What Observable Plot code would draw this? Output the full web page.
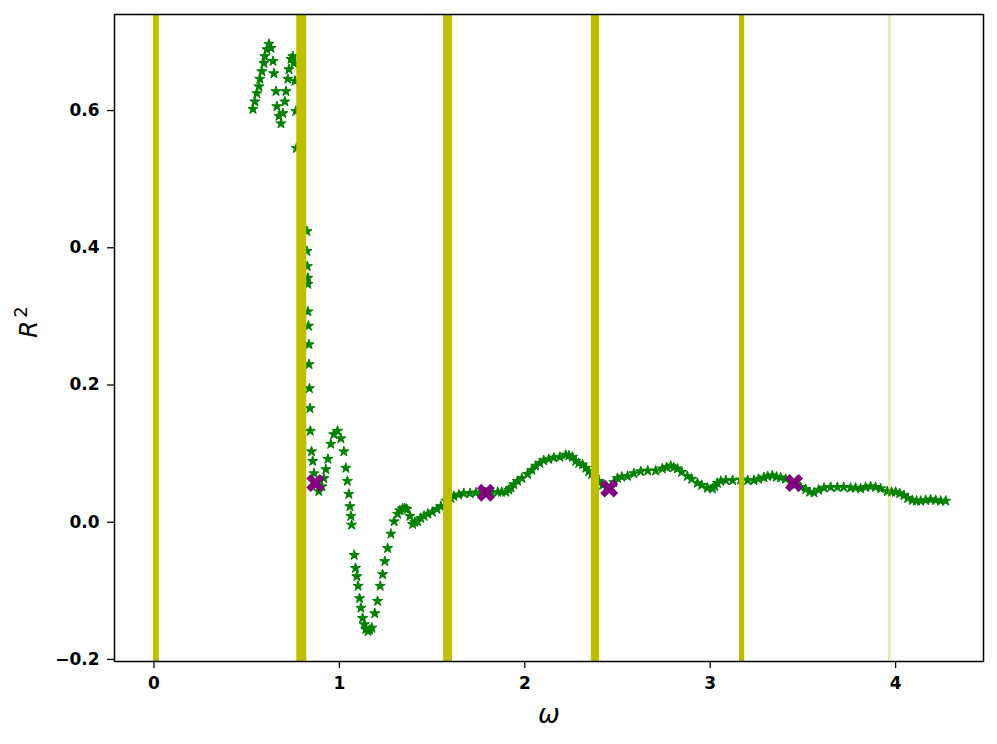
<!DOCTYPE html>
<html><head><meta charset="utf-8">
<script src="https://cdn.jsdelivr.net/npm/d3@7"></script>
<script src="https://cdn.jsdelivr.net/npm/@observablehq/plot@0.6"></script>
<style>
body{margin:0;background:#fff;}
#chart svg{display:block;}
</style>
</head><body><div id="chart"></div>
<script>
// ω values of the green star series
const omega = [
0.534,0.544,0.555,0.566,0.571,0.582,0.593,0.598,0.609,0.620,0.631,0.642,0.647,0.658,0.663,0.674,0.685,0.695,0.706,0.712,0.722,0.728,0.739,0.749,0.755,0.760,0.765,0.768,
0.825,0.825,0.827,0.830,0.830,0.830,0.833,0.836,0.836,0.838,0.841,0.843,0.850,0.856,0.863,0.873,0.889,0.906,0.916,0.927,0.938,0.954,0.970,0.990,1.008,1.024,1.035,1.043,1.051,1.057,1.062,1.066,
1.080,1.087,1.094,1.101,1.109,1.116,1.125,1.134,1.143,1.154,1.164,1.175,1.191,1.206,1.220,1.233,1.245,1.260,1.278,1.295,1.314,1.326,1.341,1.353,1.364,1.380,1.395,1.407,1.422,1.439,1.457,1.477,1.502,1.526,1.547,1.574,1.601,
1.617,1.644,1.671,1.704,1.736,1.763,1.790,1.822,1.854,1.876,1.898,1.914,1.925,1.941,1.961,1.984,2.015,2.038,2.059,2.081,2.102,2.129,2.156,2.189,2.221,2.237,2.257,2.275,2.291,2.311,2.329,2.345,2.361,2.377,2.399,2.420,2.442,2.464,2.480,
2.500,2.523,2.554,2.588,2.625,2.663,2.706,2.742,2.765,2.787,2.803,2.823,2.846,2.877,2.900,2.931,2.954,2.985,3.012,3.024,3.039,3.057,3.084,3.121,3.164,3.202,3.236,3.261,3.290,3.310,3.335,3.358,3.380,3.407,3.434,3.461,3.488,3.515,3.536,3.560,
3.585,3.614,3.650,3.686,3.720,3.757,3.784,3.811,3.838,3.865,3.892,3.919,3.955,3.978,4.000,4.022,4.045,4.065,4.090,4.113,4.135,4.162,4.189,4.216,4.243,4.270
];
// R² values of the green star series
const r2 = [
0.602,0.613,0.625,0.635,0.646,0.657,0.669,0.679,0.689,0.697,0.691,0.672,0.654,0.628,0.606,0.592,0.581,0.596,0.613,0.628,0.646,0.660,0.675,0.679,0.669,0.643,0.599,0.545,
0.424,0.395,0.373,0.356,0.347,0.307,0.286,0.259,0.230,0.195,0.166,0.133,0.103,0.089,0.071,0.054,0.045,0.052,0.064,0.077,0.092,0.114,0.128,0.133,0.122,0.103,0.079,0.060,0.041,0.023,0.009,-0.004,
-0.048,-0.067,-0.079,-0.093,-0.111,-0.125,-0.140,-0.149,-0.156,-0.159,-0.157,-0.154,-0.133,-0.115,-0.093,-0.076,-0.057,-0.038,-0.017,0.001,0.012,0.017,0.020,0.020,0.019,0.009,-0.003,0.000,0.001,0.006,0.009,0.012,0.015,0.019,0.023,0.031,0.035,
0.038,0.040,0.042,0.042,0.043,0.043,0.043,0.043,0.044,0.044,0.044,0.047,0.050,0.055,0.060,0.064,0.070,0.076,0.082,0.086,0.090,0.092,0.094,0.095,0.098,0.097,0.095,0.089,0.086,0.084,0.079,0.074,0.070,0.066,0.060,0.054,0.051,0.051,0.058,
0.064,0.066,0.067,0.071,0.074,0.075,0.075,0.078,0.080,0.082,0.080,0.078,0.073,0.067,0.063,0.057,0.054,0.050,0.049,0.052,0.057,0.060,0.061,0.061,0.062,0.061,0.061,0.063,0.065,0.067,0.068,0.066,0.065,0.063,0.060,0.055,0.051,0.048,0.044,0.043,
0.047,0.050,0.051,0.051,0.051,0.050,0.050,0.049,0.051,0.052,0.051,0.049,0.045,0.044,0.044,0.042,0.039,0.035,0.032,0.031,0.031,0.032,0.033,0.032,0.031,0.031
];
// purple cross markers
const markOmega = [0.870, 1.790, 2.455, 3.452];
const markR2 = [0.057, 0.043, 0.049, 0.057];
// vertical bands (start / end in ω)
const bandLo = [-0.003, 0.770, 1.562, 2.359, 3.158, 3.961];
const bandHi = [0.029, 0.824, 1.610, 2.403, 3.186, 3.977];
const bandAlpha = [1, 1, 1, 1, 1, 0.3];
// axis ticks
const xTicks = [0, 1, 2, 3, 4];
const yTicks = [-0.2, 0.0, 0.2, 0.4, 0.6];

const starIdx = d3.range(omega.length);
const markIdx = d3.range(markOmega.length);
const bandIdx = d3.range(bandLo.length);

// matplotlib-style filled "X" marker
const filledX = {
  draw(ctx, size) {
    const r = Math.sqrt(size / Math.PI), a = r / 2;
    const pts = [[0,-a],[r-a,-r],[r,-r+a],[a,0],[r,r-a],[r-a,r],[0,a],[-r+a,r],[-r,r-a],[-a,0],[-r,-r+a],[-r+a,-r]];
    ctx.moveTo(pts[0][0], pts[0][1]);
    for (let k = 1; k < pts.length; k++) ctx.lineTo(pts[k][0], pts[k][1]);
    ctx.closePath();
  }
};

const fmtY = d3.format(".1f");

const chart = Plot.plot({
  width: 997,
  height: 744,
  marginLeft: 114,
  marginRight: 14,
  marginTop: 14,
  marginBottom: 83,
  style: {fontFamily: "DejaVu Sans", background: "#fff", color: "#000"},
  x: {domain: [-0.213, 4.474]},
  y: {domain: [-0.203, 0.74]},
  marks: [
    Plot.dot(starIdx, {x: i => omega[i], y: i => r2[i], symbol: "star", r: 3.2, fill: "#008000", stroke: "#008000", strokeWidth: 1}),
    Plot.rect(bandIdx, {x1: i => bandLo[i], x2: i => bandHi[i], fill: "#bfbf00", fillOpacity: i => bandAlpha[i]}),
    Plot.dot(markIdx, {x: i => markOmega[i], y: i => markR2[i], symbol: filledX, r: 9, fill: "#800080"}),
    Plot.frame({stroke: "#000", strokeWidth: 1.5}),
    Plot.axisX({ticks: xTicks, tickFormat: d => String(d), tickSize: 7, tickPadding: 8, fontSize: 17, fontWeight: "bold", label: null, strokeWidth: 1.3}),
    Plot.axisY({ticks: yTicks, tickFormat: fmtY, tickSize: 7, tickPadding: 8, fontSize: 17, fontWeight: "bold", label: null, strokeWidth: 1.3}),
    Plot.text(["ω"], {frameAnchor: "bottom", dy: 53, text: d => d, fontSize: 26, fontStyle: "italic", lineAnchor: "middle"}),
    Plot.text(["R²"], {frameAnchor: "left", dx: -86, rotate: -90, text: d => d, fontSize: 25, fontStyle: "italic", lineAnchor: "middle"})
  ]
});
document.getElementById("chart").appendChild(chart);
// render the superscript like matplotlib mathtext (upright, raised "2")
chart.querySelectorAll("text").forEach(t => {
  if (t.textContent === "R²") {
    t.textContent = "R";
    const sup = document.createElementNS("http://www.w3.org/2000/svg", "tspan");
    sup.setAttribute("dy", "-10");
    sup.setAttribute("dx", "3");
    sup.setAttribute("font-size", "18");
    sup.setAttribute("font-style", "normal");
    sup.textContent = "2";
    t.appendChild(sup);
  }
});
</script>
</body></html>
